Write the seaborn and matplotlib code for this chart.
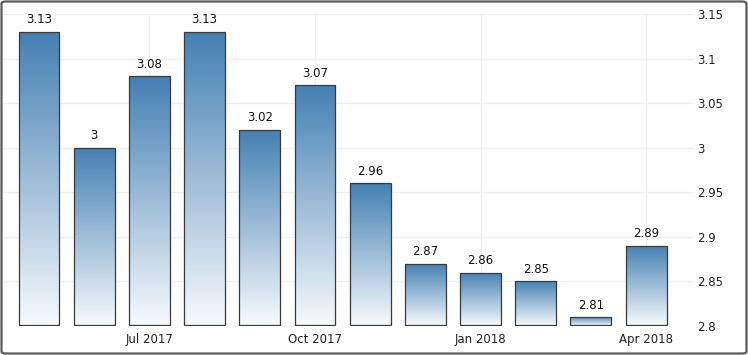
import numpy as np
import pandas as pd
import seaborn as sns
import matplotlib
matplotlib.use("Agg")
import matplotlib.pyplot as plt
from matplotlib.colors import LinearSegmentedColormap
from matplotlib.patches import FancyBboxPatch

months = ["May 2017", "Jun 2017", "Jul 2017", "Aug 2017", "Sep 2017", "Oct 2017",
          "Nov 2017", "Dec 2017", "Jan 2018", "Feb 2018", "Mar 2018", "Apr 2018"]
values = [3.13, 3.00, 3.08, 3.13, 3.02, 3.07, 2.96, 2.87, 2.86, 2.85, 2.81, 2.89]
value_labels = ["3.13", "3", "3.08", "3.13", "3.02", "3.07", "2.96", "2.87", "2.86", "2.85", "2.81", "2.89"]
tick_months = ["Jul 2017", "Oct 2017", "Jan 2018", "Apr 2018"]
y_ticks = [2.8, 2.85, 2.9, 2.95, 3.0, 3.05, 3.1, 3.15]
y_tick_labels = ["2.8", "2.85", "2.9", "2.95", "3", "3.05", "3.1", "3.15"]
y_min, y_max = 2.8, 3.15

sns.set_theme(style="white")
plt.rcParams['font.family'] = ['DejaVu Sans']

W, H = 748, 355
fig = plt.figure(figsize=(W / 100, H / 100), dpi=100)
fig.patch.set_facecolor("white")
ax = fig.add_axes([3 / W, (H - 326) / H, 690 / W, 312 / H])

df = pd.DataFrame({"month": months, "value": values})
sns.barplot(data=df, x="month", y="value", order=months, width=0.74,
            color="#4682b4", edgecolor="#3a3a3a", linewidth=0.9, ax=ax, zorder=3)

cmap = LinearSegmentedColormap.from_list("g", ["#f8fafd", "#4480b3"])
grad = np.linspace(0, 1, 256).reshape(-1, 1)
for p in ax.patches:
    top = p.get_y() + p.get_height()
    p.set_y(y_min + 0.0008)
    p.set_height(top - y_min - 0.0008)
    x0, w = p.get_x(), p.get_width()
    im = ax.imshow(grad, extent=[x0, x0 + w, y_min, top], origin="lower",
                   cmap=cmap, aspect="auto", zorder=2.5)
    im.set_clip_path(p)
    p.set_facecolor("none")

ax.set_xlim(-0.652, 11.85)
ax.set_ylim(y_min, y_max)

for i, (v, lab) in enumerate(zip(values, value_labels)):
    ax.annotate(lab, (i, v), xytext=(0, 4), textcoords="offset points",
                ha="center", va="bottom", fontsize=8.5, color="#111111", zorder=5)

pos = [months.index(m) for m in tick_months]
ax.set_xticks(pos)
ax.set_xticklabels(tick_months, fontsize=8.5, color="#222222")
ax.set_yticks(y_ticks)
ax.set_yticklabels(y_tick_labels, fontsize=8.5, color="#222222")
ax.yaxis.tick_right()
ax.tick_params(axis="y", length=0, pad=3)
ax.tick_params(axis="x", length=3, color="#dddddd", pad=2)
ax.set_xlabel("")
ax.set_ylabel("")
ax.grid(True, color="#efefef", linewidth=0.9, zorder=0)
ax.set_axisbelow(True)
for s in ax.spines.values():
    s.set_visible(False)

border = FancyBboxPatch((1.5 / W, 1.5 / H), (W - 3) / W, (H - 3) / H,
                        boxstyle="round,pad=0,rounding_size=0.006",
                        transform=fig.transFigure, facecolor="none",
                        edgecolor="#5a5a5a", linewidth=1.6, zorder=10)
fig.patches.append(border)

fig.savefig("out.png", dpi=100)
